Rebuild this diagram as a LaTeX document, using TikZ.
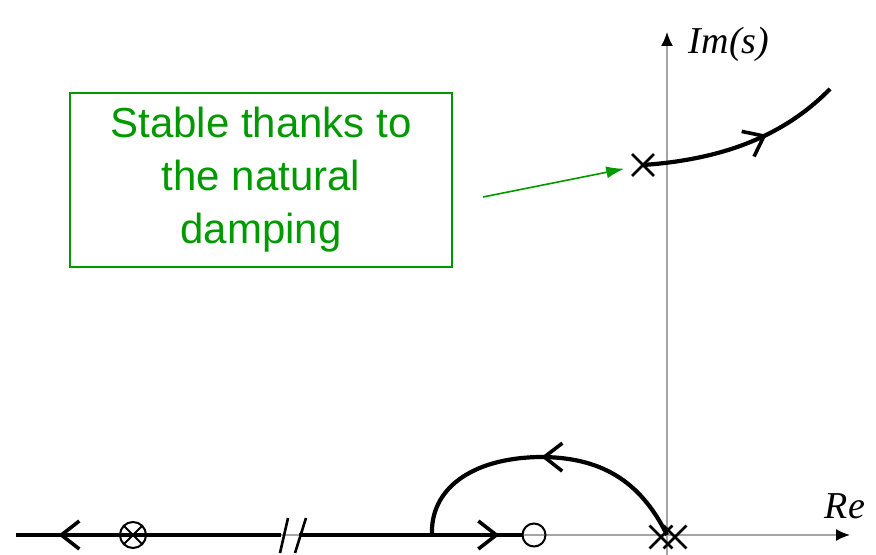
\documentclass[tikz,border=0pt]{standalone}
\usepackage{fontspec}
\setmainfont{Liberation Sans}
\newfontfamily\timesfont{Liberation Serif}
\usepackage{xcolor}
\usetikzlibrary{arrows.meta, positioning, shapes.misc, decorations.markings}
\definecolor{notegreen}{RGB}{0,153,0}
\definecolor{axisgray}{RGB}{165,165,165}

\begin{document}
\begin{tikzpicture}[
  x=0.5pt, y=-0.5pt,
  axis/.style={axisgray, line width=0.8pt, -{Latex[length=7pt,width=6pt,color=black]}},
  axislabel/.style={font=\timesfont\itshape\fontsize{19}{19}\selectfont, inner sep=0pt},
  locus/.style={line width=2.1pt, black},
  pole/.style={cross out, draw, line width=1.4pt, minimum size=9.5pt, inner sep=0pt},
  zero/.style={circle, draw, line width=1pt, minimum size=11.5pt, inner sep=0pt},
  polezero/.style={circle, draw, line width=1pt, minimum size=13pt, inner sep=0pt,
              path picture={\draw[line width=1pt] (path picture bounding box.north west) -- (path picture bounding box.south east)
                (path picture bounding box.north east) -- (path picture bounding box.south west);}},
  breakmark/.style={line width=1.3pt, black},
  note/.style={rectangle, draw=notegreen, line width=0.9pt, text=notegreen, align=center,
              minimum width=191pt, minimum height=87pt, font=\fontsize{21}{26.5}\selectfont},
  pointer/.style={-{Latex[length=9pt,width=6pt]}, notegreen, line width=0.8pt},
  dir/.style={postaction={decorate}, decoration={markings,
              mark=at position #1 with {\arrow[line width=1.8pt]{Straight Barb[length=9pt,width=14pt]}}}}
]
\useasboundingbox (0,0) rectangle (876,555);

% axes
\coordinate (o) at (667,535);
\coordinate (reend) at (850,535);
\coordinate (restart) at (16,535);
\coordinate (imend) at (667,32);
\coordinate (imstart) at (667,555);
\draw[axis] (restart) -- (reend);
\draw[axis] (imstart) -- (imend);
\node[axislabel] (im) at (729,44) {Im(s)};
\node[axislabel] (re) at (845,506) {Re};

% poles and zeros
\node[pole] (p1) at (643,165) {};
\node[pole, minimum size=10pt] (p2) at (661,537) {};
\node[pole, minimum size=10pt] (p3) at (675,537) {};
\node[zero] (z1) at (534,535) {};
\node[polezero] (pz) at (133,535) {};

% root loci
\coordinate (upend) at (830,89);
\coordinate (split) at (432,535);
\coordinate (top) at (540,457);
\coordinate (brkl) at (281,535);
\coordinate (brkr) at (299,535);
\draw[locus, dir=0.62] (p1.center) .. controls (715,160) and (780,140) .. (upend);
\draw[locus, dir=0.51] (o) .. controls (640,480) and (600,457) .. (top)
  .. controls (470,458) and (430,490) .. (split);
\draw[locus, dir=0.9] (brkr) -- (z1.west);
\draw[locus, dir=0.84] (brkl) -- (restart);
\draw[breakmark] (288,518) -- (280,553);
\draw[breakmark] (306,518) -- (295,553);

% annotation
\node[note] (note) at (261,180) {Stable thanks to\\the natural\\damping};
\coordinate (from) at (483,197);
\draw[pointer, shorten >=4pt] (from) -- (p1);
\end{tikzpicture}
\end{document}
